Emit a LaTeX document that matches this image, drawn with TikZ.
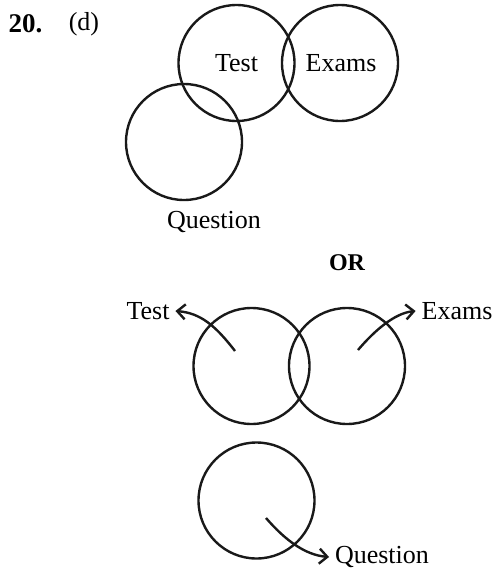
\documentclass[tikz,border=0pt]{standalone}
\usepackage{fontspec}
\setmainfont{Liberation Serif}
\usetikzlibrary{arrows.meta}
\begin{document}
\begin{tikzpicture}[x=1pt,y=-1pt,
  ring/.style={draw=black!90,line width=2.4pt,circle,minimum size=116pt,inner sep=0pt},
  lbl/.style={font=\fontsize{26}{30}\selectfont,inner sep=2pt},
  tag/.style={lbl,outer sep=4pt},
  pointer/.style={draw=black!90,line width=2.4pt,-{Straight Barb[length=8pt,width=15pt]}}]
\useasboundingbox (0,0) rectangle (495,571);
% top part
\node[lbl,font=\fontsize{27}{30}\selectfont\bfseries] (num) at (25.5,24) {20.};
\node[lbl] (opt) at (84,24) {(d)};
\node[ring] (t1) at (236.5,63) {};
\node[ring] (e1) at (340,63) {};
\node[ring] (q1) at (184,142) {};
\node[lbl] (tt1) at (236.5,63) {Test};
\node[lbl] (et1) at (341,63) {Exams};
\node[lbl] (qt1) at (214,222) {Question};
\node[lbl,font=\fontsize{24}{28}\selectfont\bfseries] (or) at (347,263) {OR};
% bottom part
\node[ring] (t2) at (251.5,366) {};
\node[ring] (e2) at (347,366) {};
\node[ring] (q2) at (256.5,500.5) {};
\node[tag] (tt2) at (148,311) {Test};
\node[tag] (et2) at (457,311) {Exams};
\node[tag] (qt2) at (382,557) {Question};
\coordinate (ts) at (235,351);
\coordinate (es) at (358,350);
\coordinate (qs) at (266,518);
\draw[pointer] (ts) .. controls (215,325) and (200,313) .. (tt2.east);
\draw[pointer] (es) .. controls (375,330) and (395,313) .. (et2.west);
\draw[pointer] (qs) .. controls (285,540) and (305,555) .. (qt2.west);
\end{tikzpicture}
\end{document}
